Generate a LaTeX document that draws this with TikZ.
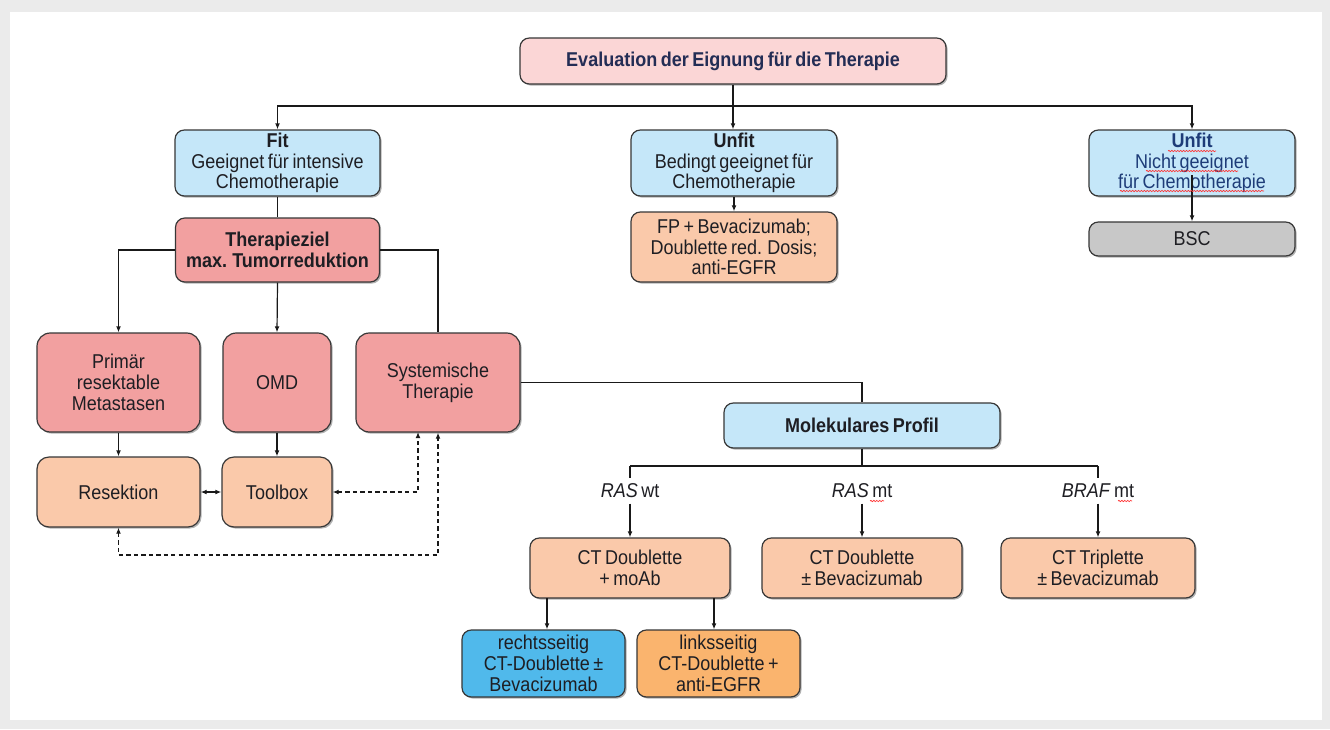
\documentclass[tikz,border=0pt]{standalone}
\usepackage{fontspec}
\setmainfont{Liberation Sans}[FakeStretch=0.9,WordSpace=0.7]
\usetikzlibrary{arrows.meta,shadows,decorations.pathmorphing}
\definecolor{bggray}{RGB}{235,235,235}
\definecolor{bordc}{RGB}{55,55,55}
\definecolor{pinklt}{RGB}{251,214,214}
\definecolor{bluelt}{RGB}{197,231,249}
\definecolor{salmon}{RGB}{242,160,160}
\definecolor{peach}{RGB}{250,201,170}
\definecolor{grayb}{RGB}{200,200,200}
\definecolor{bluemd}{RGB}{80,185,235}
\definecolor{orng}{RGB}{250,180,110}
\definecolor{navy}{RGB}{35,45,85}
\definecolor{navyb}{RGB}{30,60,120}
\definecolor{txt}{RGB}{30,30,35}
\newcommand{\fsz}{\fontsize{15}{15.5}\selectfont}
\begin{document}
\begin{tikzpicture}[x=0.75pt,y=-0.75pt,
  box/.style={draw=bordc, line width=0.9pt, rounded corners=7pt, align=center,
    inner sep=1pt, font=\fsz, text=txt,
    drop shadow={shadow xshift=1.2pt,shadow yshift=-1.2pt,opacity=0.3,fill=black}},
  sz/.style 2 args={minimum width={#1*0.75pt}, minimum height={#2*0.75pt}},
  conn/.style={draw=black!90, line width=0.9pt},
  arr/.style={conn, -{Latex[length=4.5pt,width=3.6pt]}},
  darr/.style={conn, {Latex[length=4.5pt,width=3.6pt]}-{Latex[length=4.5pt,width=3.6pt]}},
  dasharr/.style={darr, dash pattern=on 3.2pt off 2.4pt},
  lab/.style={font=\fsz, text=txt, inner sep=4pt},
  spell/.style={draw=red!80, line width=0.5pt, decorate, decoration={snake, amplitude=0.5pt, segment length=2.2pt}}
]
\fill[bggray] (0,0) rectangle (1330,729);
\fill[white] (10,12) rectangle (1322,720);

% top row
\node[box, fill=pinklt, sz={426}{46}, text=navy] (top) at (733,61) {\textbf{Evaluation der Eignung für die Therapie}};
\node[box, fill=bluelt, sz={205}{66}] (fit) at (277.5,163) {\textbf{Fit}\\Geeignet für intensive\\Chemotherapie};
\node[box, fill=bluelt, sz={206}{66}] (u1) at (734,163) {\textbf{Unfit}\\Bedingt geeignet für\\Chemotherapie};
\node[box, fill=bluelt, sz={206}{66}, text=navyb] (u2) at (1192,163) {\textbf{Unfit}\\Nicht geeignet\\für Chemotherapie};
\node[box, fill=peach, sz={206}{70}] (fp) at (734,247) {FP + Bevacizumab;\\Doublette red. Dosis;\\anti-EGFR};
\node[box, fill=grayb, sz={206}{34}] (bsc) at (1192,239) {BSC};
\node[box, fill=salmon, sz={204}{64}] (tz) at (277.5,250) {\textbf{Therapieziel}\\\textbf{max. Tumorreduktion}};

% left block
\node[box, fill=salmon, sz={163}{99}, rounded corners=10pt] (prim) at (118.5,382.5) {Primär\\resektable\\Metastasen};
\node[box, fill=salmon, sz={108}{99}, rounded corners=10pt] (omd) at (277,382.5) {OMD};
\node[box, fill=salmon, sz={164}{99}, rounded corners=10pt] (sys) at (438,382.5) {Systemische\\Therapie};
\node[box, fill=peach, sz={163}{70}, rounded corners=9pt] (res) at (118.5,492) {Resektion};
\node[box, fill=peach, sz={110}{70}, rounded corners=9pt] (tb) at (277,492) {Toolbox};

% molecular
\node[box, fill=bluelt, sz={276}{45}] (mol) at (862,425.5) {\textbf{Molekulares Profil}};
\node[lab] (l1) at (630,491) {\textit{RAS} wt};
\node[lab] (l2) at (862,491) {\textit{RAS} mt};
\node[lab] (l3) at (1098,491) {\textit{BRAF} mt};
\node[box, fill=peach, sz={200}{60}] (ct1) at (630,568) {CT Doublette\\+ moAb};
\node[box, fill=peach, sz={200}{60}] (ct2) at (862,568) {CT Doublette\\± Bevacizumab};
\node[box, fill=peach, sz={194}{60}] (ct3) at (1098,568) {CT Triplette\\± Bevacizumab};
\node[box, fill=bluemd, sz={163}{67}] (rs) at (543.5,663.5) {rechtsseitig\\CT-Doublette ±\\Bevacizumab};
\node[box, fill=orng, sz={163}{67}] (ls) at (718.5,663.5) {linksseitig\\CT-Doublette +\\anti-EGFR};

% connectors top
\coordinate (j) at (733,106);
\draw[conn] (top.south) -- (j);
\draw[arr] (j) -| (fit.north);
\draw[arr] (j) -| (u2.north);
\draw[arr] (j) -- (j |- u1.north);
\draw[arr] (u1.south) -- (fp.north);
\coordinate (u2in) at (1192,175);
\draw[arr] (u2in) -- (bsc.north);
\draw[conn] (fit.south) -- (tz.north);
\draw[arr] (tz.west) -| (prim.north);
\draw[arr] (tz.south) -- (omd.north);
\draw[conn] (tz.east) -| (sys.north);
\draw[arr] (prim.south) -- (res.north);
\draw[arr] (omd.south) -- (tb.north);
\draw[darr] (tb.west) -- (res.east);
\coordinate (s1) at (418,432);
\draw[dasharr] (tb.east) -| (s1);
\coordinate (d) at (438,555);
\draw[dasharr] (res.south) |- (d) -- (sys.south);

% molecular connectors
\draw[conn] (sys.east) -| (mol.north);
\coordinate (mb) at (862,466);
\draw[conn] (mol.south) -- (mb);
\draw[conn] (l1.north |- mb) -- (l3.north |- mb);
\draw[conn] (l1.north |- mb) -- (l1.north);
\draw[conn] (l3.north |- mb) -- (l3.north);
\draw[arr] (l1.south) -- (ct1.north);
\draw[arr] (l2.south) -- (ct2.north);
\draw[arr] (l3.south) -- (ct3.north);
\coordinate (r1) at (547,598);
\coordinate (r2) at (714,598);
\draw[arr] (r1) -- (r1 |- rs.north);
\draw[arr] (r2) -- (r2 |- ls.north);

% spell-check marks
\draw[spell] (1168,151) -- (1216,151);
\draw[spell] (1146,171) -- (1238,171);
\draw[spell] (1120,191) -- (1264,191);
\draw[spell] (870,501) -- (884,501);
\draw[spell] (1118,501) -- (1132,501);
\end{tikzpicture}
\end{document}
